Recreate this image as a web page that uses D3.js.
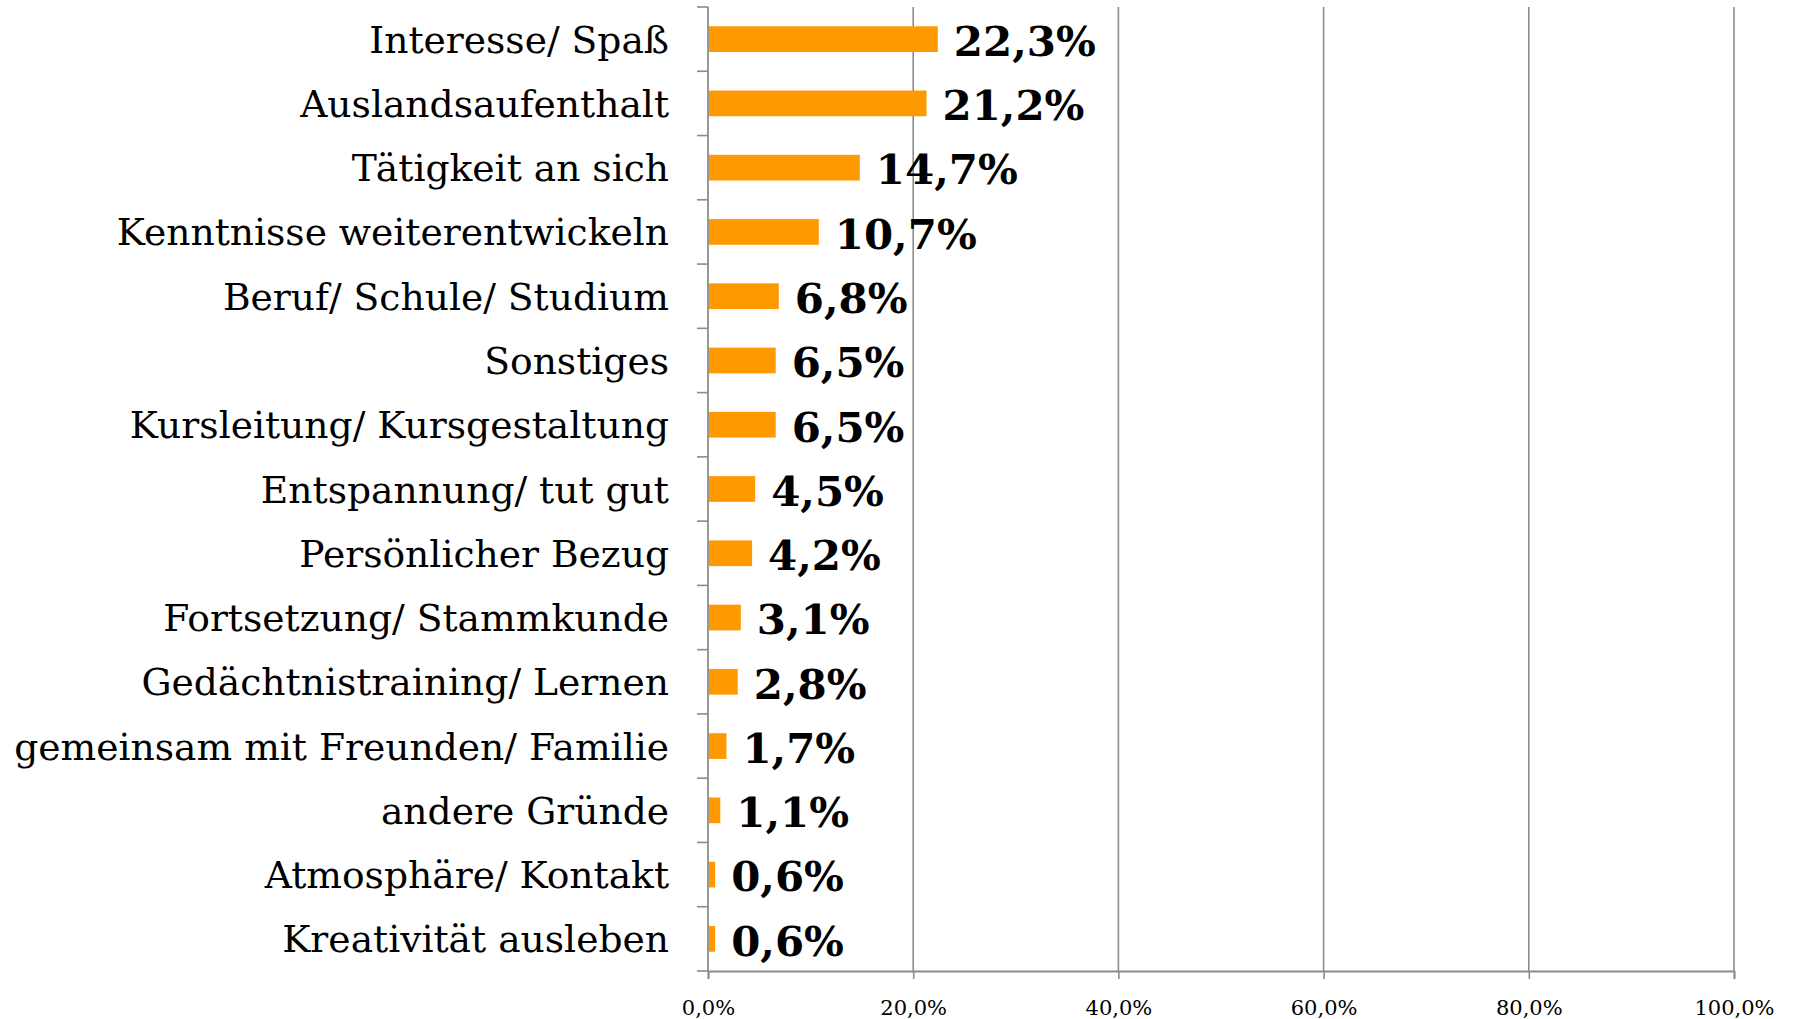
<!DOCTYPE html>
<html><head><meta charset="utf-8">
<script src="https://cdn.jsdelivr.net/npm/d3@7"></script>
<style>body{margin:0;background:#fff}svg{display:block}</style>
</head><body>
<svg id="c" width="1797" height="1019"></svg>
<script>
const categories = ["Interesse/ Spaß","Auslandsaufenthalt","Tätigkeit an sich","Kenntnisse weiterentwickeln","Beruf/ Schule/ Studium","Sonstiges","Kursleitung/ Kursgestaltung","Entspannung/ tut gut","Persönlicher Bezug","Fortsetzung/ Stammkunde","Gedächtnistraining/ Lernen","gemeinsam mit Freunden/ Familie","andere Gründe","Atmosphäre/ Kontakt","Kreativität ausleben"];
const values = [22.3,21.2,14.7,10.7,6.8,6.5,6.5,4.5,4.2,3.1,2.8,1.7,1.1,0.6,0.6];
const valueLabels = ["22,3%","21,2%","14,7%","10,7%","6,8%","6,5%","6,5%","4,5%","4,2%","3,1%","2,8%","1,7%","1,1%","0,6%","0,6%"];
const xTicks = [0,20,40,60,80,100];
const xTickLabels = ["0,0%","20,0%","40,0%","60,0%","80,0%","100,0%"];

const svg = d3.select("#c");
const X0 = 708, X1 = 1734, Y0 = 7, Y1 = 971;
const x = d3.scaleLinear().domain([0,100]).range([X0,X1]);
const y = d3.scaleBand().domain(categories).range([Y0,Y1]).paddingInner(0.6).paddingOuter(0.3);
const step = y.step();
const serif = "'DejaVu Serif', 'Liberation Serif', serif";
const grey = "#8c8c8c";

// gridlines
svg.append("g").selectAll("line").data(xTicks.slice(1)).join("line")
  .attr("x1", d=>x(d)).attr("x2", d=>x(d)).attr("y1", Y0).attr("y2", Y1)
  .attr("stroke", grey).attr("stroke-width", 1.6);

// bottom axis
const xa = svg.append("g").attr("transform", `translate(0,${Y1})`)
  .call(d3.axisBottom(x).tickValues(xTicks).tickSize(8).tickFormat((d,i)=>xTickLabels[i]));
xa.select(".domain").attr("stroke", grey).attr("stroke-width", 1.8);
xa.selectAll(".tick line").attr("stroke", grey).attr("stroke-width", 1.6);
xa.selectAll(".tick text").attr("font-family", serif).attr("font-size", 21).attr("fill","#000").attr("dy", "1.55em");

// left axis line
svg.append("line").attr("x1", X0).attr("x2", X0).attr("y1", Y0).attr("y2", Y1)
  .attr("stroke", grey).attr("stroke-width", 1.8);
// category boundary ticks
const bounds = categories.map(c => y(c) - y.paddingInner()*step/2).concat([Y1]);
svg.append("g").selectAll("line").data(bounds).join("line")
  .attr("x1", X0-11).attr("x2", X0).attr("y1", d=>d).attr("y2", d=>d)
  .attr("stroke", grey).attr("stroke-width", 1.6);

// bars
svg.append("g").selectAll("rect").data(values).join("rect")
  .attr("x", X0+1).attr("y", (d,i)=>y(categories[i]))
  .attr("width", d=>x(d)-X0).attr("height", y.bandwidth())
  .attr("fill", "#ff9900");

// category labels
const cl = svg.append("g").selectAll("text").data(categories).join("text")
  .attr("x", 669).attr("y", d=>y(d)+y.bandwidth()/2).attr("dy","0.36em")
  .attr("text-anchor","end").attr("font-family", serif).attr("font-size", 36).attr("fill","#000")
  .text(d=>d);
// fit size to reference width of longest label (655px)
let longest = cl.nodes()[11].getComputedTextLength();
cl.attr("font-size", 36*655/longest);

// value labels
const vl = svg.append("g").selectAll("text").data(values).join("text")
  .attr("x", d=>x(d)+17).attr("y", (d,i)=>y(categories[i])+y.bandwidth()/2).attr("dy","0.4em")
  .attr("font-family", serif).attr("font-weight","bold").attr("font-size", 38).attr("fill","#000")
  .text((d,i)=>valueLabels[i]);
let w0 = vl.nodes()[0].getComputedTextLength();
vl.attr("font-size", 38*142/w0);
</script>
</body></html>
